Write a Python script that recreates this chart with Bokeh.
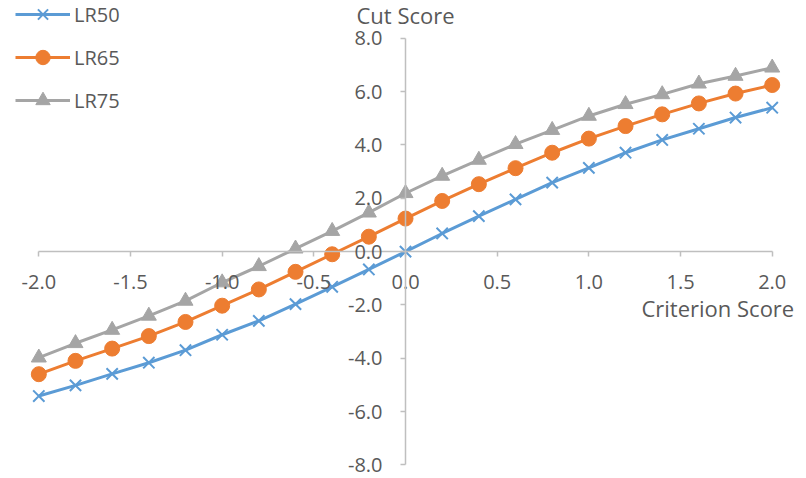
from bokeh.plotting import figure
from bokeh.models import Range1d, FixedTicker, NumeralTickFormatter, Label, Legend, LegendItem
from bokeh.embed import file_html
from bokeh.resources import INLINE

# Criterion scores (x) and cut scores for each likelihood-ratio level
criterion = [-2.0, -1.8, -1.6, -1.4, -1.2, -1.0, -0.8, -0.6, -0.4, -0.2, 0.0,
             0.2, 0.4, 0.6, 0.8, 1.0, 1.2, 1.4, 1.6, 1.8, 2.0]
lr50 = [-5.42, -5.02, -4.59, -4.17, -3.70, -3.12, -2.60, -1.97, -1.32, -0.67, 0.00,
        0.68, 1.33, 1.96, 2.59, 3.14, 3.71, 4.19, 4.61, 5.03, 5.40]
lr65 = [-4.60, -4.10, -3.64, -3.17, -2.64, -2.03, -1.42, -0.76, -0.10, 0.56, 1.24,
        1.90, 2.53, 3.13, 3.71, 4.24, 4.71, 5.15, 5.56, 5.93, 6.25]
lr75 = [-3.98, -3.44, -2.94, -2.41, -1.85, -1.16, -0.55, 0.11, 0.77, 1.46, 2.19,
        2.84, 3.44, 4.03, 4.56, 5.09, 5.53, 5.90, 6.30, 6.59, 6.90]

x_ticks = [-2.0, -1.5, -1.0, -0.5, 0.0, 0.5, 1.0, 1.5, 2.0]
y_ticks = [-8, -6, -4, -2, 0, 2, 4, 6, 8]

FONT = "Open Sans"
TEXT = "#595959"
AXIS = "#BFBFBF"

# The frame fills the whole canvas; the axes cross at the origin and are
# bounded to the data extent, with some room left around for the texts.
p = figure(width=806, height=478, output_backend="svg", toolbar_location=None,
           x_range=Range1d(-2.209, 2.187), y_range=Range1d(-8.514, 9.422),
           min_border=0, x_axis_location="below", y_axis_location="left")
p.outline_line_color = None
p.grid.visible = False
p.background_fill_color = "white"
p.border_fill_color = "white"

for ax in (p.xaxis[0], p.yaxis[0]):
    ax.fixed_location = 0
    ax.axis_line_color = AXIS
    ax.axis_line_width = 1.5
    ax.major_tick_line_color = AXIS
    ax.major_tick_line_width = 1.5
    ax.major_tick_out = 5
    ax.major_tick_in = 0
    ax.minor_tick_line_color = None
    ax.major_label_text_font = FONT
    ax.major_label_text_font_size = "20px"
    ax.major_label_text_color = TEXT
    ax.formatter = NumeralTickFormatter(format="0.0")

p.xaxis[0].bounds = (-2, 2)
p.yaxis[0].bounds = (-8, 8)
p.xaxis[0].ticker = FixedTicker(ticks=x_ticks)
p.yaxis[0].ticker = FixedTicker(ticks=y_ticks)
p.xaxis[0].major_label_standoff = 18
p.yaxis[0].major_label_standoff = 18

series = [("LR50", lr50, "#5B9BD5", "x"),
          ("LR65", lr65, "#ED7D31", "circle"),
          ("LR75", lr75, "#A5A5A5", "triangle")]

items = []
for name, ys, color, marker in series:
    ln = p.line(criterion, ys, line_color=color, line_width=3)
    if marker == "x":
        mk = p.scatter(criterion, ys, marker="x", size=16, line_color=color, line_width=2)
    else:
        mk = p.scatter(criterion, ys, marker=marker, size=15,
                       fill_color=color, line_color=color, line_width=1)
    items.append(LegendItem(label=name, renderers=[ln, mk]))

legend = Legend(items=items, location=(15, 360), orientation="vertical",
                glyph_width=55, glyph_height=36, label_standoff=4, spacing=7,
                label_text_font=FONT, label_text_font_size="20px", label_text_color=TEXT,
                background_fill_alpha=0, border_line_alpha=0, padding=0, margin=0)
p.add_layout(legend)

p.add_layout(Label(x=0, y=8, text="Cut Score", text_font=FONT, text_font_size="22px",
                   text_color=TEXT, text_align="center", text_baseline="middle", y_offset=23))
p.add_layout(Label(x=2, y=0, text="Criterion Score", text_font=FONT, text_font_size="22px",
                   text_color=TEXT, text_align="right", text_baseline="middle",
                   x_offset=22, y_offset=-56))

open("out.html", "w").write(file_html(p, INLINE))
